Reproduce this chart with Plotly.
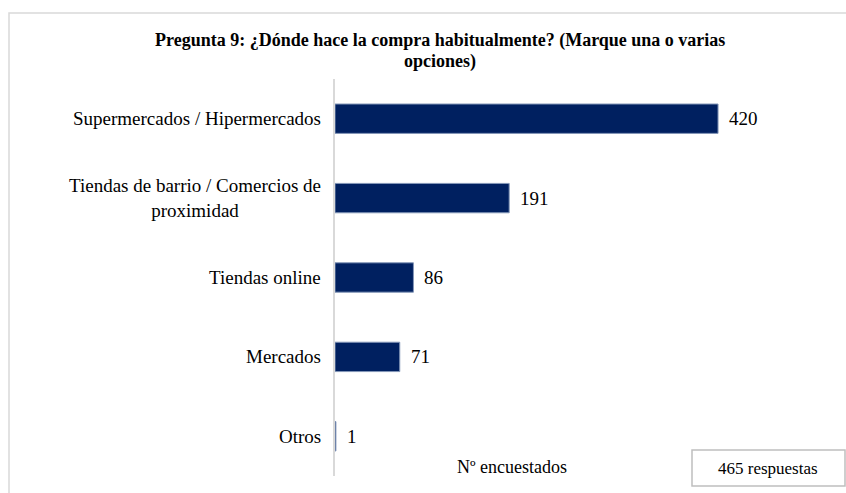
import plotly.graph_objects as go

categories = ["Supermercados / Hipermercados",
              "Tiendas de barrio / Comercios de<br>proximidad",
              "Tiendas online", "Mercados", "Otros"]
values = [420, 191, 86, 71, 1]
title_lines = ["Pregunta 9: ¿Dónde hace la compra habitualmente? (Marque una o varias",
               "opciones)"]
x_label = "Nº encuestados"
note = "465 respuestas"

W, H = 846, 493
FONT = "Liberation Serif, Times New Roman, serif"

def px(x):
    return x / W

def py(y):
    return 1 - y / H

fig = go.Figure()
fig.add_trace(go.Bar(
    y=categories, x=values, orientation="h",
    marker=dict(color="#002060", line=dict(color="#8497B8", width=1)),
    hoverinfo="skip", showlegend=False,
))

annotations = []
for c, v in zip(categories, values):
    annotations.append(dict(x=v, y=c, xref="x", yref="y", text=str(v),
                            xanchor="left", yanchor="middle", xshift=9,
                            showarrow=False, font=dict(size=19, color="black", family=FONT)))
    annotations.append(dict(x=px(323), y=c, xref="paper", yref="y", text=c,
                            xanchor="right", yanchor="middle", align="center",
                            showarrow=False, font=dict(size=19, color="black", family=FONT)))

annotations.append(dict(x=px(440), y=py(41), xref="paper", yref="paper", text="<b>" + title_lines[0] + "</b>",
                        xanchor="center", yanchor="middle", showarrow=False,
                        font=dict(size=18, color="black", family=FONT)))
annotations.append(dict(x=px(440), y=py(62), xref="paper", yref="paper", text="<b>" + title_lines[1] + "</b>",
                        xanchor="center", yanchor="middle", showarrow=False,
                        font=dict(size=18, color="black", family=FONT)))
annotations.append(dict(x=px(512), y=py(467), xref="paper", yref="paper", text=x_label,
                        xanchor="center", yanchor="middle", showarrow=False,
                        font=dict(size=18, color="black", family=FONT)))
annotations.append(dict(x=px(768), y=py(468), xref="paper", yref="paper", text=note,
                        xanchor="center", yanchor="middle", showarrow=False,
                        font=dict(size=17, color="black", family=FONT)))

shapes = [
    dict(type="rect", xref="paper", yref="paper", x0=px(9), x1=px(W + 20), y0=py(H + 20), y1=py(13),
         line=dict(color="#D9D9D9", width=1.5), fillcolor="rgba(0,0,0,0)", layer="below"),
    dict(type="rect", xref="paper", yref="paper", x0=px(692), x1=px(845), y0=py(486), y1=py(450),
         line=dict(color="#BFBFBF", width=1.5), fillcolor="white"),
]

fig.update_layout(
    width=W, height=H,
    margin=dict(l=0, r=0, t=0, b=0),
    paper_bgcolor="white", plot_bgcolor="white",
    bargap=0.63,
    xaxis=dict(domain=[px(335), px(791)], range=[0, 500], showgrid=False, zeroline=False,
               showticklabels=False, showline=False, ticks="", fixedrange=True),
    yaxis=dict(domain=[py(476), py(79)], autorange="reversed", showgrid=False, zeroline=False,
               showticklabels=False, showline=True, linecolor="#D9D9D9", linewidth=1.5, ticks="",
               fixedrange=True),
    annotations=annotations,
    shapes=shapes,
    font=dict(family=FONT, color="black"),
)

fig.write_html("out.html", config={"displayModeBar": False},
               post_script="document.body.style.margin='0';document.body.style.overflow='hidden';")
